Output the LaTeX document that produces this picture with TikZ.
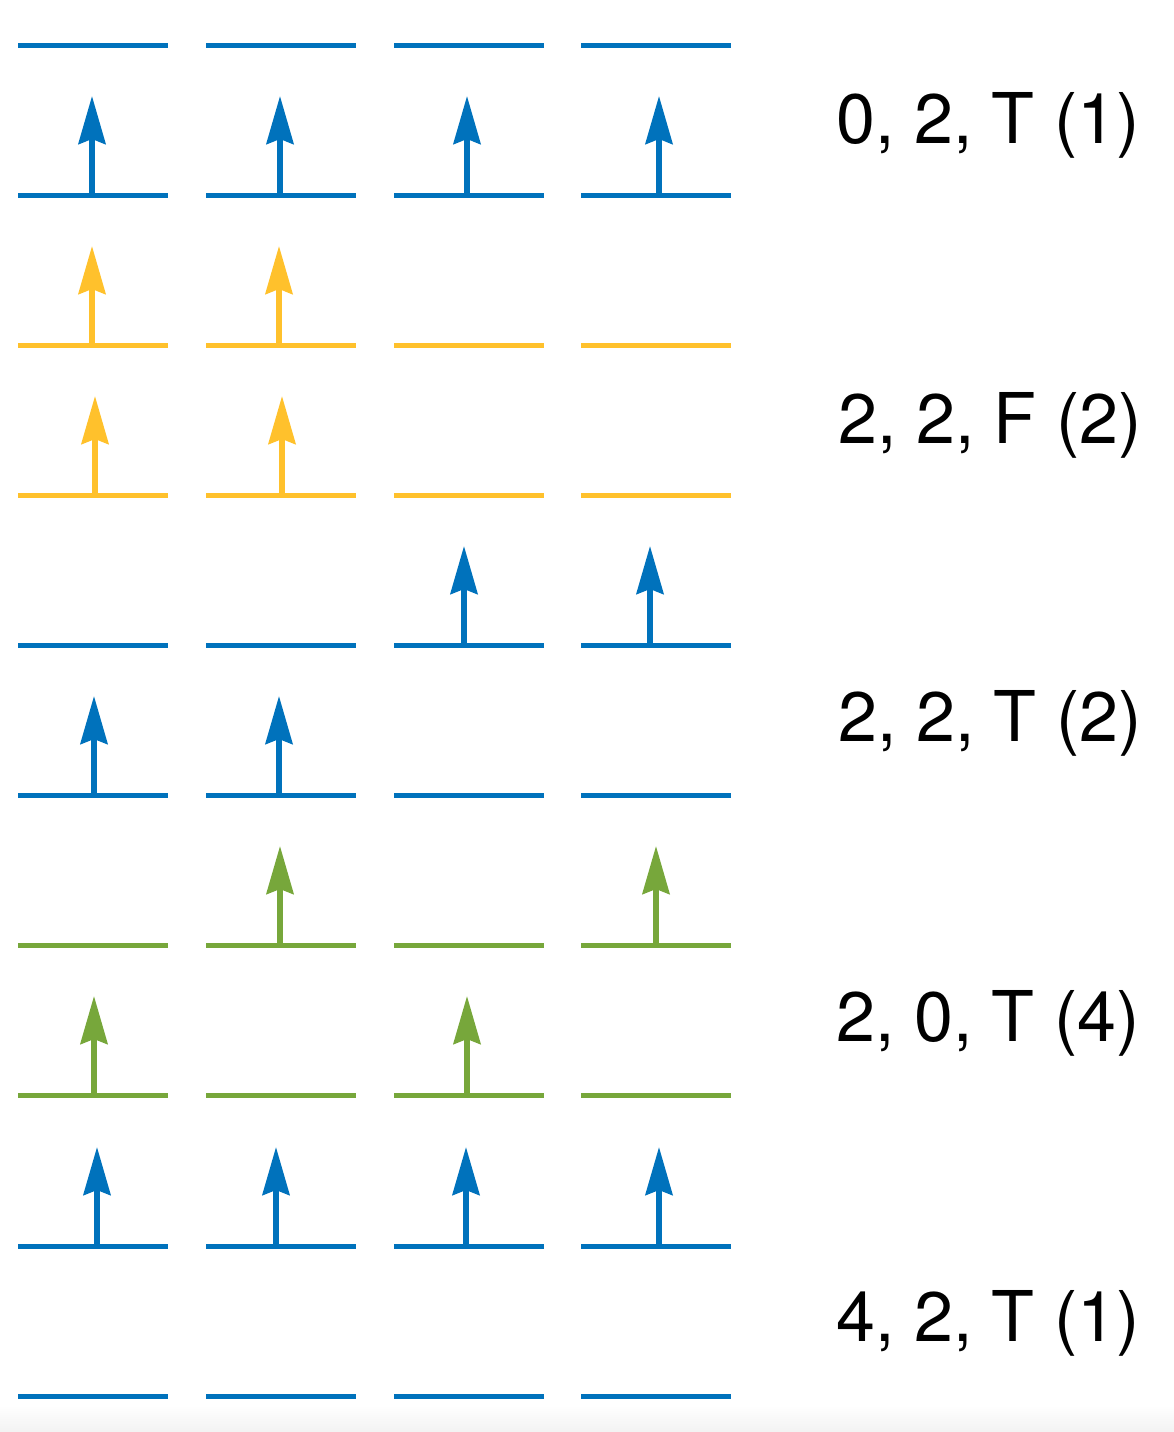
\documentclass[tikz,border=0pt]{standalone}
\usepackage{fontspec}
\setmainfont{TeX Gyre Heros}
\usetikzlibrary{arrows.meta}
\definecolor{eblue}{RGB}{0,114,188}
\definecolor{eyellow}{RGB}{255,193,44}
\definecolor{egreen}{RGB}{119,167,59}
\begin{document}
\begin{tikzpicture}[x=1pt,y=-1pt,
  level/.style={line width=5pt},
  spin/.style={line width=5.5pt,-{Stealth[length=48pt,width=27pt,inset=5pt]}},
  lbl/.style={font=\fontsize{70}{84}\selectfont,anchor=base,inner sep=0pt}]
\useasboundingbox (0,0) rectangle (1174,1432);
\shade[top color=white,bottom color=black!5,draw=none] (0,1405) rectangle (1174,1432);
% energy levels
\foreach \yy/\cc in {45/eblue,195/eblue,345/eyellow,495/eyellow,645/eblue,795/eblue,945/egreen,1095/egreen,1246/eblue,1396/eblue}{
  \foreach \xx in {18,206,394,581}{
    \draw[level,\cc] (\xx,\yy) -- ++(150,0);
  }
}
% spins
\foreach \xx/\yy/\cc in {92/195/eblue,280/195/eblue,467/195/eblue,659/195/eblue,
  92/345/eyellow,279/345/eyellow,
  95/495/eyellow,282/495/eyellow,
  464/645/eblue,650/645/eblue,
  94/795/eblue,279/795/eblue,
  280/945/egreen,656/945/egreen,
  94/1095/egreen,467/1095/egreen,
  97/1246/eblue,276/1246/eblue,466/1246/eblue,659/1246/eblue}{
  \draw[spin,\cc] (\xx,\yy) -- ++(0,-99);
}
% labels
\node[lbl] (l1) at (988,143) {0, 2, T (1)};
\node[lbl] (l2) at (990,443) {2, 2, F (2)};
\node[lbl] (l3) at (990,741) {2, 2, T (2)};
\node[lbl] (l4) at (988,1041) {2, 0, T (4)};
\node[lbl] (l5) at (988,1341) {4, 2, T (1)};
\end{tikzpicture}
\end{document}
